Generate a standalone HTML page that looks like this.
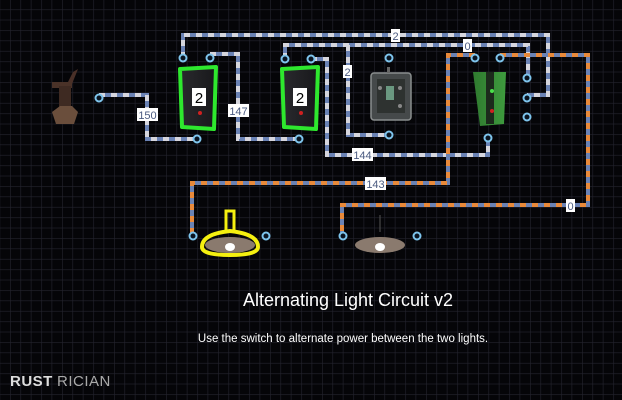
<!DOCTYPE html>
<html><head><meta charset="utf-8"><style>
html,body{margin:0;padding:0;background:#050508;}
#c{position:relative;width:622px;height:400px;overflow:hidden;background:#050508;}
svg{position:absolute;left:0;top:0}
</style></head><body><div id="c">
<svg width="622" height="400" xmlns="http://www.w3.org/2000/svg">
<defs>
<pattern id="g" x="10" y="9.3" width="10.4" height="10.4" patternUnits="userSpaceOnUse">
<path d="M0 0H10.4M0 0V10.4" stroke="#24242e" stroke-width="1.2" fill="none"/>
</pattern>
<linearGradient id="dk" x1="0" x2="1"><stop offset="0" stop-color="#2a2a2e"/><stop offset="1" stop-color="#18181b"/></linearGradient>
<linearGradient id="gr" x1="0" x2="1"><stop offset="0" stop-color="#2f7a2f"/><stop offset="1" stop-color="#3e9a3e"/></linearGradient>
</defs>
<rect width="622" height="400" fill="url(#g)"/>
<g fill="none" stroke-width="4" stroke-linejoin="miter">
<g stroke="#6a82b4">
<path d="M183 58V35H548V95H527"/>
<path d="M285 59V45H528V78"/>
<path d="M348 45V135H389"/>
<path d="M210 54H238V139H299"/>
<path d="M311 59H327V155H488V138"/>
<path d="M99 95H147V139H197"/>
</g>
<g stroke="#d6d6de" stroke-dasharray="6 6">
<path d="M183 58V35H548V95H527"/>
<path d="M285 59V45H528V78"/>
<path d="M348 45V135H389"/>
<path d="M210 54H238V139H299"/>
<path d="M311 59H327V155H488V138"/>
<path d="M99 95H147V139H197"/>
</g>
<g stroke="#6a82b4">
<path d="M475 55H448V183H192V238"/>
<path d="M500 55H588V205H342V238"/>
</g>
<g stroke="#e8893a" stroke-dasharray="6 6">
<path d="M475 55H448V183H192V238"/>
<path d="M500 55H588V205H342V238"/>
</g>
</g>
<g font-family="Liberation Sans, sans-serif" font-size="11" text-anchor="middle" fill="#4a5a80">
<rect x="137" y="108" width="21" height="13" fill="#fff"/><text x="147.5" y="119">150</text>
<rect x="228" y="104" width="21" height="13" fill="#fff"/><text x="238.5" y="115">147</text>
<rect x="352" y="148" width="21" height="13" fill="#fff"/><text x="362.5" y="159">144</text>
<rect x="365" y="177" width="21" height="13" fill="#fff"/><text x="375.5" y="188">143</text>
<rect x="391" y="29" width="9" height="13" fill="#fff"/><text x="395.5" y="40">2</text>
<rect x="343" y="65" width="9" height="13" fill="#fff"/><text x="347.5" y="76">2</text>
<rect x="463" y="39" width="9" height="13" fill="#fff"/><text x="467.5" y="50">0</text>
<rect x="566" y="199" width="9" height="13" fill="#fff"/><text x="570.5" y="210">0</text>
</g>
<g fill="#0a1420" stroke="#7ec4ec" stroke-width="2">
<circle cx="99" cy="98" r="3.5"/><circle cx="183" cy="58" r="3.5"/><circle cx="210" cy="58" r="3.5"/>
<circle cx="197" cy="139" r="3.5"/><circle cx="285" cy="59" r="3.5"/><circle cx="311" cy="59" r="3.5"/>
<circle cx="299" cy="139" r="3.5"/><circle cx="389" cy="58" r="3.5"/><circle cx="389" cy="135" r="3.5"/>
<circle cx="475" cy="58" r="3.5"/><circle cx="500" cy="58" r="3.5"/><circle cx="527" cy="78" r="3.5"/>
<circle cx="527" cy="98" r="3.5"/><circle cx="527" cy="117" r="3.5"/><circle cx="488" cy="138" r="3.5"/>
<circle cx="193" cy="236" r="3.5"/><circle cx="266" cy="236" r="3.5"/><circle cx="343" cy="236" r="3.5"/><circle cx="417" cy="236" r="3.5"/>
</g>
<g>
<path d="M73 72L78 69L72 84L68 82Z" fill="#4a3028"/>
<rect x="52" y="82" width="20" height="6" fill="#4a3228"/>
<rect x="59" y="86" width="12" height="24" fill="#3e2a22"/>
<path d="M52 112L60 106H72L78 112L74 124H56Z" fill="#6a4e3c"/>
</g>
<g>
<path d="M180 69L216 67L214 129L182 127Z" fill="url(#dk)" stroke="#2ee82e" stroke-width="4" stroke-linejoin="round"/>
<rect x="192" y="88" width="14" height="18" fill="#fff"/>
<text x="199" y="103" font-family="Liberation Sans, sans-serif" font-size="15" text-anchor="middle" fill="#000">2</text>
<circle cx="200" cy="113" r="2" fill="#d02020"/>
<path d="M282 69L318 67L316 129L284 127Z" fill="url(#dk)" stroke="#2ee82e" stroke-width="4" stroke-linejoin="round"/>
<rect x="293" y="88" width="14" height="18" fill="#fff"/>
<text x="300" y="103" font-family="Liberation Sans, sans-serif" font-size="15" text-anchor="middle" fill="#000">2</text>
<circle cx="301" cy="113" r="2" fill="#d02020"/>
</g>
<g>
<rect x="371" y="73" width="40" height="47" rx="3" fill="#45494a" stroke="#8a8e8e" stroke-width="1.5"/>
<rect x="377" y="79" width="28" height="34" fill="#2e3230"/>
<rect x="386" y="86" width="8" height="14" fill="#6a9880"/>
<circle cx="380" cy="88" r="2" fill="#888"/><circle cx="400" cy="88" r="2" fill="#888"/><circle cx="400" cy="106" r="2" fill="#888"/>
<rect x="387" y="67" width="3" height="6" fill="#666"/>
</g>
<path d="M473 72H506L504 124L480 126Z" fill="url(#gr)"/>
<rect x="486" y="72" width="8" height="52" fill="#1c2a1c"/>
<circle cx="492" cy="91" r="2" fill="#4ae04a"/><circle cx="492" cy="111" r="2" fill="#d02020"/>
<g>
<path d="M226 231V211H234V231" fill="none" stroke="#f5f010" stroke-width="3"/>
<path d="M202 247Q202 234 230 231Q258 234 258 247Q258 255 230 255Q202 255 202 247Z" fill="none" stroke="#f5f010" stroke-width="4"/>
<ellipse cx="230" cy="245" rx="25" ry="8" fill="#8a7a6e"/>
<ellipse cx="230" cy="247" rx="5" ry="4" fill="#fff"/>
<line x1="380" y1="215" x2="380" y2="232" stroke="#555" stroke-width="1"/>
<ellipse cx="380" cy="245" rx="25" ry="8" fill="#8a7a6e"/>
<ellipse cx="380" cy="247" rx="5" ry="4" fill="#fff"/>
</g>
<text x="348" y="306" font-family="Liberation Sans, sans-serif" font-size="18" text-anchor="middle" fill="#fff">Alternating Light Circuit v2</text>
<text x="343" y="342" font-family="Liberation Sans, sans-serif" font-size="11.5" text-anchor="middle" fill="#fff">Use the switch to alternate power between the two lights.</text>
<text x="10" y="386" font-family="Liberation Sans, sans-serif" font-size="15" font-weight="bold" fill="#ddd" letter-spacing="0.5">RUST</text>
<text x="57" y="386" font-family="Liberation Sans, sans-serif" font-size="15" fill="#aaa" letter-spacing="0.5">RICIAN</text>
</svg>
</div></body></html>
